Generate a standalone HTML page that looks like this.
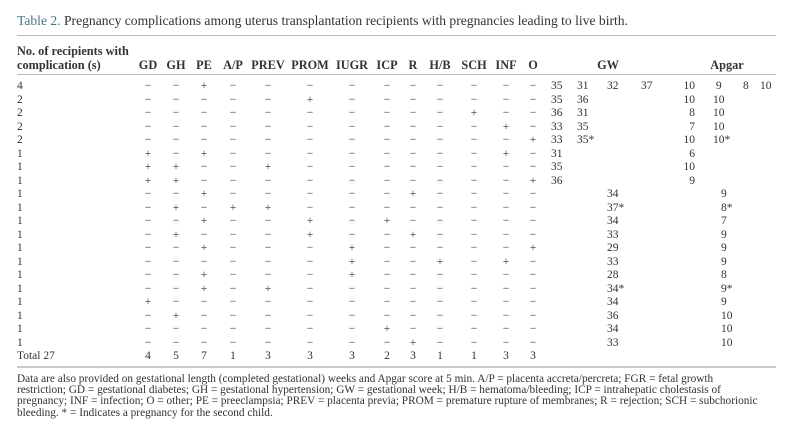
<!DOCTYPE html>
<html><head><meta charset="utf-8"><style>
html,body{margin:0;padding:0;background:#fff;}
body{width:800px;height:441px;position:relative;overflow:hidden;font-family:"Liberation Serif",serif;color:#333;font-size:11.5px;}
.a{position:absolute;white-space:nowrap;}
.r{position:absolute;left:0;width:800px;height:13px;line-height:13px;}
.r span{position:absolute;transform:translateX(-50%);}
.r span:nth-child(1){left:17px;transform:none;}
.r span:nth-child(2){left:148px}.r span:nth-child(3){left:176px}.r span:nth-child(4){left:204px}
.r span:nth-child(5){left:233px}.r span:nth-child(6){left:268px}.r span:nth-child(7){left:310px}
.r span:nth-child(8){left:352px}.r span:nth-child(9){left:387px}.r span:nth-child(10){left:413px}
.r span:nth-child(11){left:440px}.r span:nth-child(12){left:474px}.r span:nth-child(13){left:506px}
.r span:nth-child(14){left:533px}
.r span.g1{left:551px;transform:none}.r span.g2{left:577px;transform:none}
.r span.g3{left:607px;transform:none}.r span.g4{left:641px;transform:none}
.r span.gs{left:607px;transform:none}
.r span.p1{left:695px;transform:translateX(-100%)}.r span.p2{left:713px;transform:none}
.r span.p3{left:743px;transform:none}.r span.p4{left:760px;transform:none}
.r span.ps{left:721px;transform:none}
.h{position:absolute;font-weight:bold;line-height:14px;font-size:12.3px;}
.h.c{transform:translateX(-50%);}
.foot{position:absolute;left:17px;top:374px;width:770px;font-size:11.3px;line-height:11.2px;color:#333;white-space:nowrap;}
.hl{position:absolute;left:17px;height:1px;width:759px;background:#b5bcc0;}
</style></head><body>
<div class="a" style="left:17px;top:13px;font-size:13.6px;"><span style="color:#4a7584">Table 2.</span> Pregnancy complications among uterus transplantation recipients with pregnancies leading to live birth.</div>
<div class="hl" style="top:35px"></div>
<div class="h" style="left:17px;top:44px;">No. of recipients with<br>complication (s)</div>
<div class="h c" style="left:148px;top:58px">GD</div><div class="h c" style="left:176px;top:58px">GH</div>
<div class="h c" style="left:204px;top:58px">PE</div><div class="h c" style="left:233px;top:58px">A/P</div>
<div class="h c" style="left:268px;top:58px">PREV</div><div class="h c" style="left:310px;top:58px">PROM</div>
<div class="h c" style="left:352px;top:58px">IUGR</div><div class="h c" style="left:387px;top:58px">ICP</div>
<div class="h c" style="left:413px;top:58px">R</div><div class="h c" style="left:440px;top:58px">H/B</div>
<div class="h c" style="left:474px;top:58px">SCH</div><div class="h c" style="left:506px;top:58px">INF</div>
<div class="h c" style="left:533px;top:58px">O</div>
<div class="h c" style="left:608px;top:58px">GW</div><div class="h c" style="left:727px;top:58px">Apgar</div>
<div class="hl" style="top:74px"></div>

<div class="r" style="top:80px"><span>4</span><span>−</span><span>−</span><span>+</span><span>−</span><span>−</span><span>−</span><span>−</span><span>−</span><span>−</span><span>−</span><span>−</span><span>−</span><span>−</span><span class="g1">35</span><span class="g2">31</span><span class="g3">32</span><span class="g4">37</span><span class="p1">10</span><span class="p2">&nbsp;9</span><span class="p3">8</span><span class="p4">10</span></div>
<div class="r" style="top:93.5px"><span>2</span><span>−</span><span>−</span><span>−</span><span>−</span><span>−</span><span>+</span><span>−</span><span>−</span><span>−</span><span>−</span><span>−</span><span>−</span><span>−</span><span class="g1">35</span><span class="g2">36</span><span class="p1">10</span><span class="p2">10</span></div>
<div class="r" style="top:107px"><span>2</span><span>−</span><span>−</span><span>−</span><span>−</span><span>−</span><span>−</span><span>−</span><span>−</span><span>−</span><span>−</span><span>+</span><span>−</span><span>−</span><span class="g1">36</span><span class="g2">31</span><span class="p1">8</span><span class="p2">10</span></div>
<div class="r" style="top:120.5px"><span>2</span><span>−</span><span>−</span><span>−</span><span>−</span><span>−</span><span>−</span><span>−</span><span>−</span><span>−</span><span>−</span><span>−</span><span>+</span><span>−</span><span class="g1">33</span><span class="g2">35</span><span class="p1">7</span><span class="p2">10</span></div>
<div class="r" style="top:134px"><span>2</span><span>−</span><span>−</span><span>−</span><span>−</span><span>−</span><span>−</span><span>−</span><span>−</span><span>−</span><span>−</span><span>−</span><span>−</span><span>+</span><span class="g1">33</span><span class="g2">35*</span><span class="p1">10</span><span class="p2">10*</span></div>
<div class="r" style="top:147.5px"><span>1</span><span>+</span><span>−</span><span>+</span><span>−</span><span>−</span><span>−</span><span>−</span><span>−</span><span>−</span><span>−</span><span>−</span><span>+</span><span>−</span><span class="g1">31</span><span class="p1">6</span></div>
<div class="r" style="top:161px"><span>1</span><span>+</span><span>+</span><span>−</span><span>−</span><span>+</span><span>−</span><span>−</span><span>−</span><span>−</span><span>−</span><span>−</span><span>−</span><span>−</span><span class="g1">35</span><span class="p1">10</span></div>
<div class="r" style="top:174.5px"><span>1</span><span>+</span><span>+</span><span>−</span><span>−</span><span>−</span><span>−</span><span>−</span><span>−</span><span>−</span><span>−</span><span>−</span><span>−</span><span>+</span><span class="g1">36</span><span class="p1">9</span></div>
<div class="r" style="top:188px"><span>1</span><span>−</span><span>−</span><span>+</span><span>−</span><span>−</span><span>−</span><span>−</span><span>−</span><span>+</span><span>−</span><span>−</span><span>−</span><span>−</span><span class="gs">34</span><span class="ps">9</span></div>
<div class="r" style="top:201.5px"><span>1</span><span>−</span><span>+</span><span>−</span><span>+</span><span>+</span><span>−</span><span>−</span><span>−</span><span>−</span><span>−</span><span>−</span><span>−</span><span>−</span><span class="gs">37*</span><span class="ps">8*</span></div>
<div class="r" style="top:215px"><span>1</span><span>−</span><span>−</span><span>+</span><span>−</span><span>−</span><span>+</span><span>−</span><span>+</span><span>−</span><span>−</span><span>−</span><span>−</span><span>−</span><span class="gs">34</span><span class="ps">7</span></div>
<div class="r" style="top:228.5px"><span>1</span><span>−</span><span>+</span><span>−</span><span>−</span><span>−</span><span>+</span><span>−</span><span>−</span><span>+</span><span>−</span><span>−</span><span>−</span><span>−</span><span class="gs">33</span><span class="ps">9</span></div>
<div class="r" style="top:242px"><span>1</span><span>−</span><span>−</span><span>+</span><span>−</span><span>−</span><span>−</span><span>+</span><span>−</span><span>−</span><span>−</span><span>−</span><span>−</span><span>+</span><span class="gs">29</span><span class="ps">9</span></div>
<div class="r" style="top:255.5px"><span>1</span><span>−</span><span>−</span><span>−</span><span>−</span><span>−</span><span>−</span><span>+</span><span>−</span><span>−</span><span>+</span><span>−</span><span>+</span><span>−</span><span class="gs">33</span><span class="ps">9</span></div>
<div class="r" style="top:269px"><span>1</span><span>−</span><span>−</span><span>+</span><span>−</span><span>−</span><span>−</span><span>+</span><span>−</span><span>−</span><span>−</span><span>−</span><span>−</span><span>−</span><span class="gs">28</span><span class="ps">8</span></div>
<div class="r" style="top:282.5px"><span>1</span><span>−</span><span>−</span><span>+</span><span>−</span><span>+</span><span>−</span><span>−</span><span>−</span><span>−</span><span>−</span><span>−</span><span>−</span><span>−</span><span class="gs">34*</span><span class="ps">9*</span></div>
<div class="r" style="top:296px"><span>1</span><span>+</span><span>−</span><span>−</span><span>−</span><span>−</span><span>−</span><span>−</span><span>−</span><span>−</span><span>−</span><span>−</span><span>−</span><span>−</span><span class="gs">34</span><span class="ps">9</span></div>
<div class="r" style="top:309.5px"><span>1</span><span>−</span><span>+</span><span>−</span><span>−</span><span>−</span><span>−</span><span>−</span><span>−</span><span>−</span><span>−</span><span>−</span><span>−</span><span>−</span><span class="gs">36</span><span class="ps">10</span></div>
<div class="r" style="top:323px"><span>1</span><span>−</span><span>−</span><span>−</span><span>−</span><span>−</span><span>−</span><span>−</span><span>+</span><span>−</span><span>−</span><span>−</span><span>−</span><span>−</span><span class="gs">34</span><span class="ps">10</span></div>
<div class="r" style="top:336.5px"><span>1</span><span>−</span><span>−</span><span>−</span><span>−</span><span>−</span><span>−</span><span>−</span><span>−</span><span>+</span><span>−</span><span>−</span><span>−</span><span>−</span><span class="gs">33</span><span class="ps">10</span></div>
<div class="r" style="top:350px"><span>Total 27</span><span>4</span><span>5</span><span>7</span><span>1</span><span>3</span><span>3</span><span>3</span><span>2</span><span>3</span><span>1</span><span>1</span><span>3</span><span>3</span></div>
<div style="position:absolute;left:17px;top:366px;height:2px;width:759px;background:#c5cacd;"></div>
<div class="foot">Data are also provided on gestational length (completed gestational) weeks and Apgar score at 5 min. A/P = placenta accreta/percreta; FGR = fetal growth<br>restriction; GD = gestational diabetes; GH = gestational hypertension; GW = gestational week; H/B = hematoma/bleeding; ICP = intrahepatic cholestasis of<br>pregnancy; INF = infection; O = other; PE = preeclampsia; PREV = placenta previa; PROM = premature rupture of membranes; R = rejection; SCH = subchorionic<br>bleeding. * = Indicates a pregnancy for the second child.</div>
</body></html>
